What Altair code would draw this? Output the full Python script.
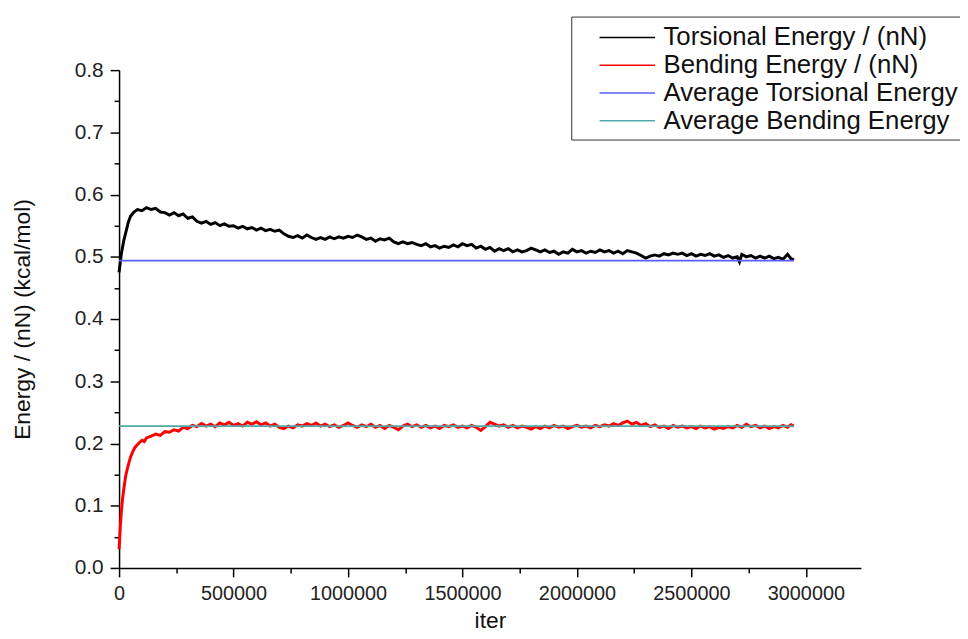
import altair as alt
import pandas as pd

series_names = ["Torsional Energy / (nN)", "Bending Energy / (nN)",
                "Average Torsional Energy", "Average Bending Energy"]
series_colors = ["#000000", "#ff0000", "#5c5cff", "#4fa8a8"]

tors_x = [0, 5000, 10000, 20000, 30000, 40000, 50000, 65000, 80000, 100000,
          120000, 140000, 160000, 180000, 200000, 220000, 240000, 260000, 280000, 300000,
          320000, 340000, 360000, 380000, 400000, 420000, 440000, 460000, 480000, 500000,
          520000, 540000, 560000, 580000, 600000, 620000, 640000, 660000, 680000, 700000,
          720000, 740000, 760000, 780000, 800000, 820000, 840000, 860000, 880000, 900000,
          920000, 940000, 960000, 980000, 1000000, 1020000, 1040000, 1060000, 1080000, 1100000,
          1120000, 1140000, 1160000, 1180000, 1200000, 1220000, 1240000, 1260000, 1280000, 1300000,
          1320000, 1340000, 1360000, 1380000, 1400000, 1420000, 1440000, 1460000, 1480000, 1500000,
          1520000, 1540000, 1560000, 1580000, 1600000, 1620000, 1640000, 1660000, 1680000, 1700000,
          1720000, 1740000, 1760000, 1780000, 1800000, 1820000, 1840000, 1860000, 1880000, 1900000,
          1920000, 1940000, 1960000, 1980000, 2000000, 2020000, 2040000, 2060000, 2080000, 2100000,
          2120000, 2140000, 2160000, 2180000, 2200000, 2220000, 2240000, 2260000, 2280000, 2300000,
          2320000, 2340000, 2360000, 2380000, 2400000, 2420000, 2440000, 2460000, 2480000, 2500000,
          2520000, 2540000, 2560000, 2580000, 2600000, 2620000, 2640000, 2660000, 2680000, 2700000,
          2710000, 2720000, 2740000, 2760000, 2780000, 2800000, 2820000, 2840000, 2860000, 2880000,
          2900000, 2920000, 2935000, 2948000]
tors_y = [0.475, 0.490, 0.505, 0.525, 0.540, 0.555, 0.565, 0.572, 0.576, 0.574,
          0.579, 0.576, 0.578, 0.572, 0.571, 0.567, 0.571, 0.566, 0.569, 0.562,
          0.564, 0.557, 0.554, 0.557, 0.552, 0.555, 0.550, 0.553, 0.549, 0.550,
          0.546, 0.549, 0.545, 0.547, 0.543, 0.546, 0.542, 0.544, 0.541, 0.543,
          0.537, 0.533, 0.531, 0.534, 0.530, 0.535, 0.531, 0.528, 0.531, 0.528,
          0.532, 0.529, 0.532, 0.530, 0.533, 0.531, 0.535, 0.532, 0.528, 0.530,
          0.525, 0.529, 0.527, 0.530, 0.524, 0.521, 0.524, 0.521, 0.523, 0.520,
          0.518, 0.521, 0.516, 0.518, 0.514, 0.517, 0.515, 0.519, 0.516, 0.521,
          0.518, 0.520, 0.514, 0.517, 0.512, 0.515, 0.509, 0.513, 0.510, 0.513,
          0.508, 0.511, 0.508, 0.510, 0.514, 0.511, 0.508, 0.511, 0.507, 0.509,
          0.504, 0.508, 0.506, 0.512, 0.508, 0.510, 0.506, 0.509, 0.507, 0.511,
          0.508, 0.510, 0.506, 0.509, 0.505, 0.510, 0.508, 0.506, 0.502, 0.498,
          0.501, 0.503, 0.501, 0.505, 0.503, 0.506, 0.504, 0.506, 0.502, 0.505,
          0.501, 0.504, 0.502, 0.505, 0.501, 0.503, 0.499, 0.502, 0.498, 0.500,
          0.492, 0.504, 0.500, 0.502, 0.498, 0.501, 0.498, 0.501, 0.497, 0.499,
          0.496, 0.504, 0.497, 0.495]

bend_x = [0, 3000, 6000, 10000, 15000, 20000, 25000, 30000, 40000, 50000,
          60000, 70000, 80000, 90000, 100000, 110000, 120000, 140000, 160000, 180000,
          200000, 220000, 240000, 260000, 280000, 300000, 320000, 340000, 360000, 380000,
          400000, 420000, 440000, 460000, 480000, 500000, 520000, 540000, 560000, 580000,
          600000, 620000, 640000, 660000, 680000, 700000, 720000, 740000, 760000, 780000,
          800000, 820000, 840000, 860000, 880000, 900000, 920000, 940000, 960000, 980000,
          1000000, 1020000, 1040000, 1060000, 1080000, 1100000, 1120000, 1140000, 1160000, 1180000,
          1200000, 1220000, 1240000, 1260000, 1280000, 1300000, 1320000, 1340000, 1360000, 1380000,
          1400000, 1420000, 1440000, 1460000, 1480000, 1500000, 1520000, 1540000, 1560000, 1580000,
          1600000, 1620000, 1640000, 1660000, 1680000, 1700000, 1720000, 1740000, 1760000, 1780000,
          1800000, 1820000, 1840000, 1860000, 1880000, 1900000, 1920000, 1940000, 1960000, 1980000,
          2000000, 2020000, 2040000, 2060000, 2080000, 2100000, 2120000, 2140000, 2160000, 2180000,
          2200000, 2220000, 2240000, 2260000, 2280000, 2300000, 2320000, 2340000, 2360000, 2380000,
          2400000, 2420000, 2440000, 2460000, 2480000, 2500000, 2520000, 2540000, 2560000, 2580000,
          2600000, 2620000, 2640000, 2660000, 2680000, 2700000, 2720000, 2740000, 2760000, 2780000,
          2800000, 2820000, 2840000, 2860000, 2880000, 2900000, 2920000, 2935000, 2948000]
bend_y = [0.030, 0.050, 0.070, 0.090, 0.110, 0.125, 0.138, 0.150, 0.165, 0.178,
          0.187, 0.194, 0.198, 0.202, 0.205, 0.203, 0.209, 0.212, 0.215, 0.213,
          0.219, 0.218, 0.222, 0.220, 0.226, 0.224, 0.229, 0.227, 0.232, 0.228,
          0.231, 0.227, 0.233, 0.230, 0.234, 0.229, 0.232, 0.228, 0.234, 0.231,
          0.235, 0.230, 0.233, 0.228, 0.231, 0.226, 0.224, 0.228, 0.225, 0.230,
          0.228, 0.232, 0.229, 0.233, 0.228, 0.231, 0.227, 0.230, 0.226, 0.229,
          0.233, 0.229, 0.226, 0.230, 0.227, 0.231, 0.226, 0.229, 0.224, 0.229,
          0.226, 0.222, 0.228, 0.231, 0.227, 0.230, 0.226, 0.229, 0.225, 0.228,
          0.224, 0.229, 0.227, 0.230, 0.226, 0.228, 0.225, 0.229, 0.226, 0.221,
          0.227, 0.234, 0.231, 0.228, 0.230, 0.226, 0.229, 0.225, 0.228, 0.226,
          0.223, 0.227, 0.224, 0.228, 0.225, 0.229, 0.226, 0.228, 0.224, 0.227,
          0.229, 0.226, 0.228, 0.225, 0.229, 0.227, 0.230, 0.228, 0.232, 0.229,
          0.233, 0.236, 0.231, 0.234, 0.229, 0.232, 0.227, 0.230, 0.226, 0.228,
          0.224, 0.229, 0.226, 0.228, 0.225, 0.227, 0.224, 0.228, 0.225, 0.227,
          0.223, 0.226, 0.224, 0.227, 0.225, 0.229, 0.226, 0.231, 0.227, 0.229,
          0.225, 0.228, 0.224, 0.227, 0.225, 0.229, 0.226, 0.230, 0.228]

avg_x = [0, 2948000]
avg_tors = 0.494
avg_bend = 0.228

x_major = [0, 500000, 1000000, 1500000, 2000000, 2500000, 3000000]
x_minor = [250000, 750000, 1250000, 1750000, 2250000, 2750000]
y_major = [0.0, 0.1, 0.2, 0.3, 0.4, 0.5, 0.6, 0.7, 0.8]
y_minor = [0.05, 0.15, 0.25, 0.35, 0.45, 0.55, 0.65, 0.75]

df_main = pd.concat([
    pd.DataFrame({"iter": tors_x, "E": tors_y, "series": series_names[0]}),
    pd.DataFrame({"iter": bend_x, "E": bend_y, "series": series_names[1]}),
])
df_avg = pd.concat([
    pd.DataFrame({"iter": avg_x, "E": [avg_tors] * 2, "series": series_names[2]}),
    pd.DataFrame({"iter": avg_x, "E": [avg_bend] * 2, "series": series_names[3]}),
])

FONT = "Liberation Sans"
xscale = alt.Scale(domain=[0, 3240000], nice=False, zero=False)
yscale = alt.Scale(domain=[0, 0.8], nice=False)

color = alt.Color(
    "series:N",
    scale=alt.Scale(domain=series_names, range=series_colors),
    sort=series_names,
    legend=alt.Legend(
        title=None, orient="none", legendX=456, legendY=-54,
        symbolType="M-2,0H2", symbolSize=784, symbolStrokeWidth=1.5,
        symbolOffset=35.5, labelOffset=21.5, labelFontSize=26, labelFont=FONT,
        labelColor="#111111", rowPadding=0, padding=6,
        strokeColor="#333333", fillColor="white", labelLimit=400,
    ),
)

common_axis = dict(
    domainColor="black", tickColor="black", domainWidth=1.5, tickWidth=1.5,
    labelFont=FONT, titleFont=FONT, labelColor="#222222", titleColor="#111111",
    grid=False,
)

main = alt.Chart(df_main).mark_line(strokeWidth=3).encode(
    x=alt.X("iter:Q", scale=xscale,
            axis=alt.Axis(values=x_major, format="d", title="iter", tickSize=9,
                          labelFontSize=20, titleFontSize=23, labelPadding=7,
                          titlePadding=6, orient="bottom", labelFlush=False,
                          titleFontWeight="normal", **common_axis)),
    y=alt.Y("E:Q", scale=yscale,
            axis=alt.Axis(values=y_major, format=".1f", title="Energy / (nN) (kcal/mol)",
                          tickSize=9, labelFontSize=21, titleFontSize=23, labelPadding=7,
                          titlePadding=40, orient="left", labelFlush=False,
                          titleFontWeight="normal", **common_axis)),
    color=color,
    detail="series:N",
)

avg = alt.Chart(df_avg).mark_line(strokeWidth=1.8).encode(
    x=alt.X("iter:Q", scale=xscale, axis=None),
    y=alt.Y("E:Q", scale=yscale, axis=None),
    color=color,
    detail="series:N",
)

minor = alt.Chart(df_avg).mark_point(opacity=0).encode(
    x=alt.X("iter:Q", scale=xscale,
            axis=alt.Axis(values=x_minor, labels=False, title=None, tickSize=5,
                          domain=False, orient="bottom", tickColor="black",
                          tickWidth=1.5, grid=False)),
    y=alt.Y("E:Q", scale=yscale,
            axis=alt.Axis(values=y_minor, labels=False, title=None, tickSize=5,
                          domain=False, orient="left", tickColor="black",
                          tickWidth=1.5, grid=False)),
)

chart = alt.layer(main, avg, minor).resolve_axis(
    x="independent", y="independent"
).properties(
    width=748, height=502,
    background="white",
    autosize=alt.AutoSizeParams(type="none"),
    padding={"left": 112, "top": 60, "right": 100, "bottom": 67},
).configure_view(stroke=None, strokeWidth=0).configure_axis(grid=False)

chart.save("out.html", embed_options={"renderer": "svg", "actions": False})
